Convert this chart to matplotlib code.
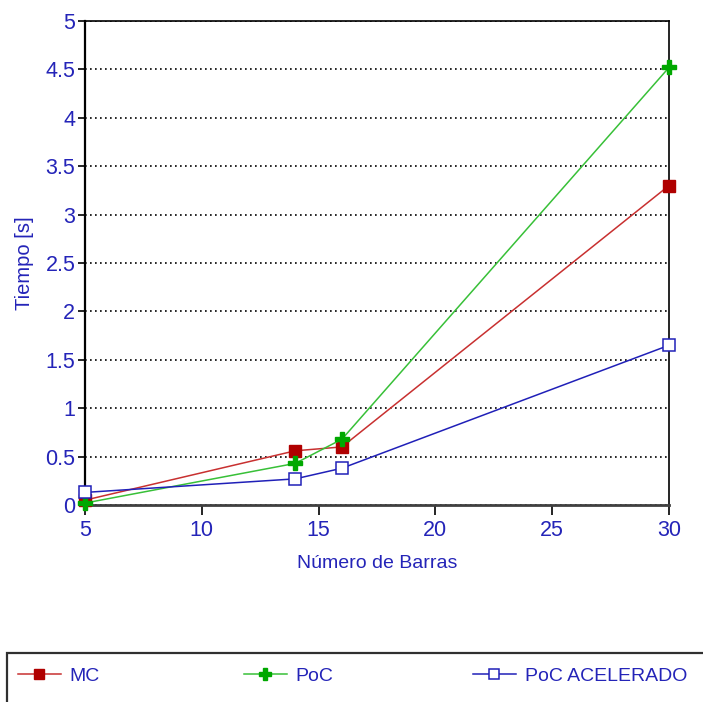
import matplotlib
matplotlib.use("Agg")
import matplotlib.pyplot as plt
from matplotlib.patches import Rectangle

plt.rcParams['font.family'] = ['Liberation Sans', 'DejaVu Sans']

# data
barras = [5, 14, 16, 30]
mc = [0.05, 0.56, 0.60, 3.30]
poc = [0.02, 0.43, 0.68, 4.52]
poc_acel = [0.13, 0.27, 0.38, 1.65]
labels = ['MC', 'PoC', 'PoC ACELERADO']
xticks = [5, 10, 15, 20, 25, 30]
yticks = [0, 0.5, 1, 1.5, 2, 2.5, 3, 3.5, 4, 4.5, 5]

blue = '#2424b8'

fig = plt.figure(figsize=(7.03, 7.02), dpi=100)
ax = fig.add_axes([85/703, 1-505/702, (669-85)/703, (505-21)/702])

l1, = ax.plot(barras, mc, color='#c83030', lw=1.1, marker='s', ms=9,
              mfc='#b00000', mec='#b00000', label=labels[0], zorder=3,
              clip_on=False)
l2, = ax.plot(barras, poc, color='#38c038', lw=1.1, marker='P', ms=10,
              mfc='#00a800', mec='#00a800', label=labels[1], zorder=4,
              clip_on=False)
l3, = ax.plot(barras, poc_acel, color='#2020b8', lw=1.1, marker='s', ms=9,
              mfc='white', mec='#2020b8', mew=1.1, label=labels[2], zorder=5,
              clip_on=False)

ax.set_xlim(5, 30)
ax.set_ylim(0, 5)
ax.set_xticks(xticks)
ax.set_xticklabels([str(v) for v in xticks])
ax.set_yticks(yticks)
ax.set_yticklabels(['%g' % v for v in yticks])
ax.yaxis.grid(True, linestyle=(0, (1, 2)), color='black', lw=1.2)
ax.set_axisbelow(True)

ax.tick_params(axis='both', colors='black', labelcolor=blue, labelsize=15.5,
               direction='out', width=1.2)
ax.tick_params(axis='y', length=5, pad=2)
ax.tick_params(axis='x', length=7, pad=4)
for s in ax.spines.values():
    s.set_linewidth(1.2)
    s.set_color('black')
ax.spines['bottom'].set_linewidth(2)
ax.spines['bottom'].set_color('#404040')
ax.spines['left'].set_linewidth(1.6)

ax.set_xlabel('Número de Barras', color=blue, fontsize=14, labelpad=10)
ax.set_ylabel('Tiempo [s]', color=blue, fontsize=14.5, labelpad=8)

# legend box at the bottom
fig.add_artist(Rectangle((7/703, -0.05), 1.0, 1-653/702+0.05,
                         transform=fig.transFigure, fill=False,
                         edgecolor='#303030', lw=1.6))
for h, x in zip([l1, l2, l3], [18, 244, 473]):
    fig.legend(handles=[h], loc='center left',
               bbox_to_anchor=(x/703, 1-676/702),
               frameon=False, fontsize=14, labelcolor=blue,
               borderaxespad=0, borderpad=0,
               handlelength=2.2, handletextpad=0.45, markerscale=0.8)

fig.savefig('out.png', dpi=100)
